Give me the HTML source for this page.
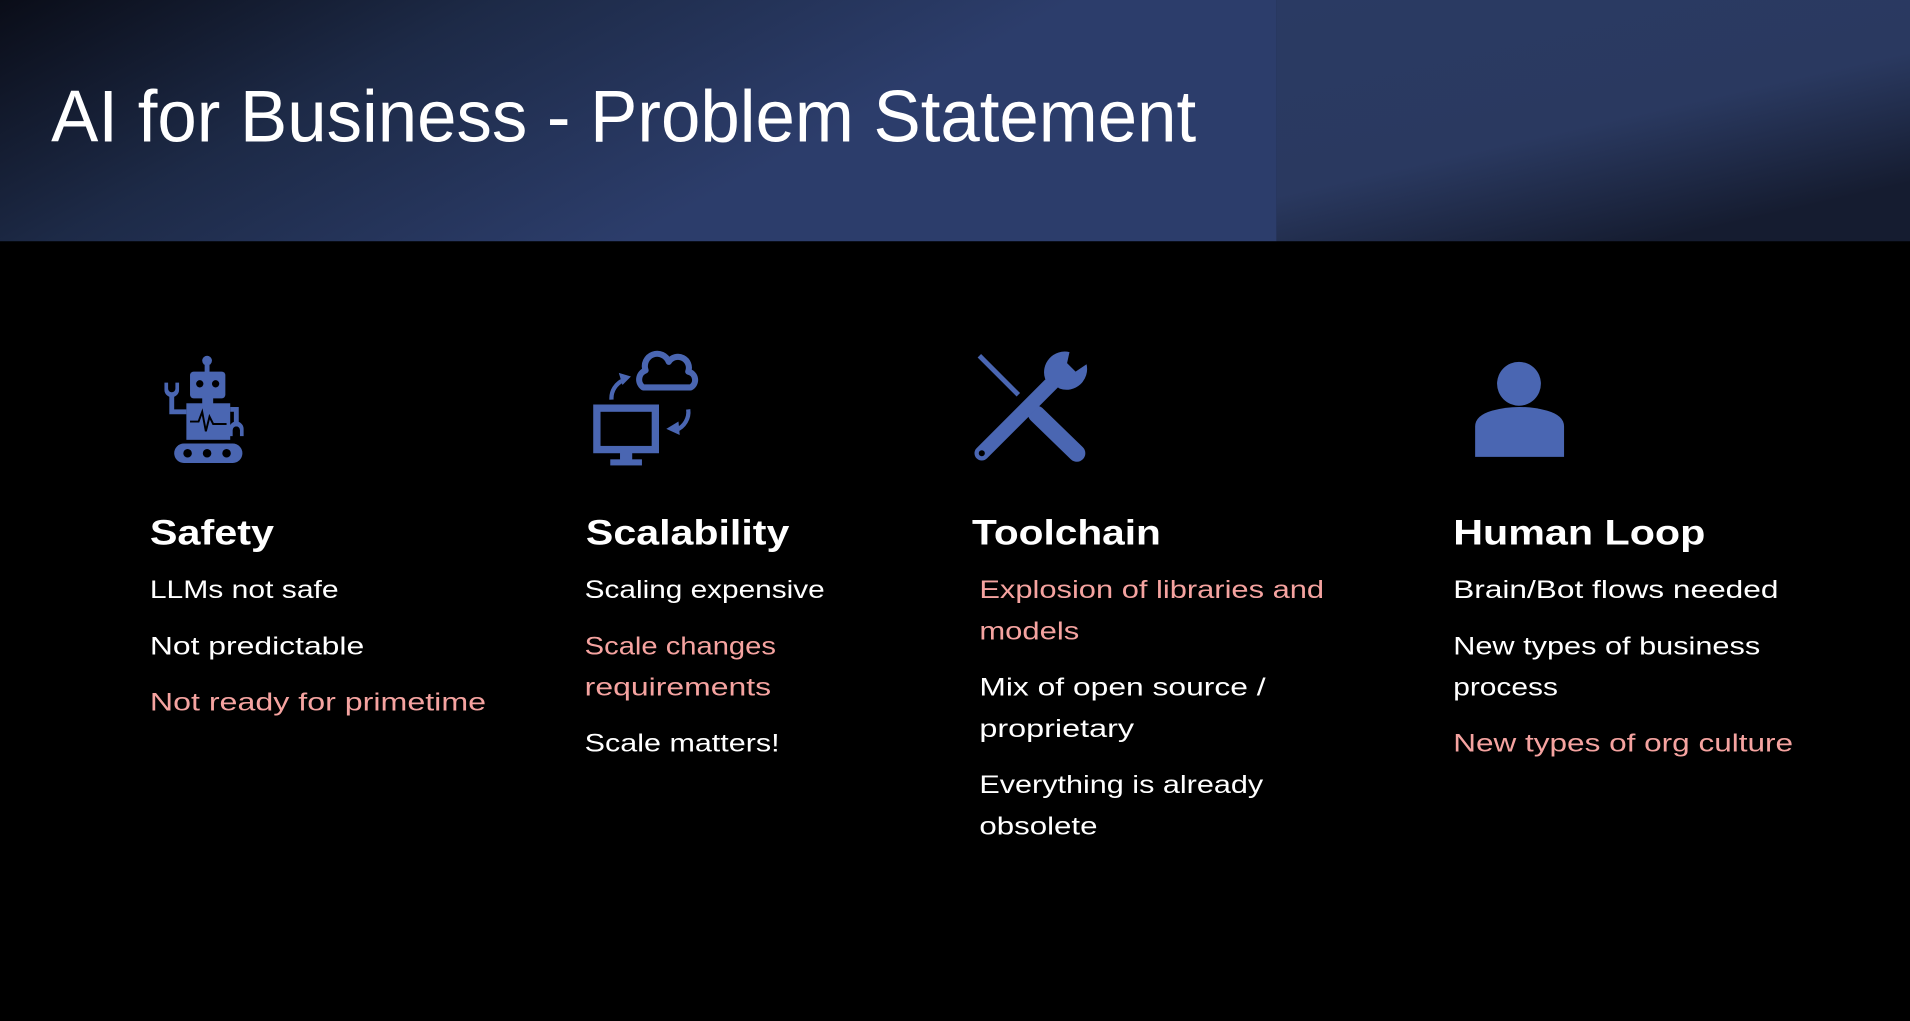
<!DOCTYPE html>
<html><head><meta charset="utf-8"><style>
html,body{margin:0;padding:0;background:#000;width:1910px;height:1021px;overflow:hidden}
svg{display:block}
text{font-family:"Liberation Sans",sans-serif}
</style></head><body>
<svg width="1910" height="1021" viewBox="0 0 1568 838" preserveAspectRatio="none" xmlns="http://www.w3.org/2000/svg">
<defs>
<linearGradient id="hg" x1="0" y1="0" x2="1" y2="0.35">
<stop offset="0" stop-color="#0a0d18"/>
<stop offset="0.35" stop-color="#1d2a47"/>
<stop offset="0.75" stop-color="#2c3d6b"/>
<stop offset="1" stop-color="#2c3d6b"/>
</linearGradient>
<linearGradient id="pg" x1="0" y1="0" x2="0.6" y2="1">
<stop offset="0" stop-color="#2a3a63"/>
<stop offset="0.6" stop-color="#2a3960"/>
<stop offset="1" stop-color="#151c30"/>
</linearGradient>
</defs>
<rect x="0" y="0" width="1568" height="838" fill="#000"/>
<rect x="0" y="0" width="1048" height="198" fill="url(#hg)"/>
<rect x="1048" y="0" width="520" height="198" fill="url(#pg)"/>
<text x="42" y="116" font-size="60" fill="#fff" textLength="940" lengthAdjust="spacingAndGlyphs">AI for Business - Problem Statement</text>

<g fill="#4a66b2">
<!-- robot -->
<circle cx="170" cy="296" r="4"/>
<rect x="168" y="298" width="4" height="9"/>
<rect x="156" y="305" width="29" height="22" rx="3"/>
<circle cx="164" cy="315" r="3" fill="#000"/><circle cx="177" cy="315" r="3" fill="#000"/>
<rect x="166" y="326" width="9" height="6"/>
<rect x="153" y="331" width="36" height="30"/>
<polyline points="156,346 163,346 166,338 169,354 172,342 175,348 186,348" fill="none" stroke="#000" stroke-width="1.6"/>
<path d="M153 338 H141 V322" fill="none" stroke="#4a66b2" stroke-width="4"/>
<path d="M135 314 v6 a5 5 0 0 0 12 0 v-6 h-3 v5 a2 2 0 0 1 -6 0 v-5z"/>
<path d="M189 336 H194 V350" fill="none" stroke="#4a66b2" stroke-width="4"/>
<path d="M188 358 v-6 a5 5 0 0 1 12 0 v6 h-3 v-5 a2 2 0 0 0 -6 0 v5z"/>
<rect x="143" y="364" width="56" height="16" rx="8"/>
<circle cx="154" cy="372" r="3.5" fill="#000"/><circle cx="170" cy="372" r="3.5" fill="#000"/><circle cx="186" cy="372" r="3.5" fill="#000"/>
<!-- monitor + cloud -->
<rect x="490" y="335" width="48" height="34" fill="none" stroke="#4a66b2" stroke-width="6"/>
<rect x="509" y="370" width="10" height="8"/>
<rect x="501" y="377" width="26" height="5"/>
<path d="M528 318 a8 8 0 0 1 2 -14 a10 10 0 0 1 19 -7 a9 9 0 0 1 16 8 a7 7 0 0 1 2 13 z" fill="none" stroke="#4a66b2" stroke-width="5" stroke-linejoin="round"/>
<path d="M502 328 a16 16 0 0 1 10 -16" fill="none" stroke="#4a66b2" stroke-width="3.5"/>
<path d="M508 306 l10 3 l-7 7z"/>
<path d="M565 336 a16 16 0 0 1 -10 17" fill="none" stroke="#4a66b2" stroke-width="3.5"/>
<path d="M547 352 l10 -6 l1 11z"/>
<!-- tools -->
<line x1="804" y1="292" x2="836" y2="324" stroke="#4a66b2" stroke-width="4"/>
<line x1="851" y1="340" x2="884" y2="372" stroke="#4a66b2" stroke-width="14" stroke-linecap="round"/>
<line x1="806" y1="372" x2="872" y2="306" stroke="#4a66b2" stroke-width="12" stroke-linecap="round"/>
<path d="M878 289 a17 17 0 0 0 -20 22 l12 8 a17 17 0 0 0 22 -20 l-9 6 l-7 -7 z"/>
<circle cx="806" cy="372" r="2.5" fill="#000"/>
<!-- person -->
<circle cx="1247" cy="315" r="18"/>
<path d="M1211 375 V350 Q1211 341 1225 337 Q1247 331 1270 337 Q1284 341 1284 350 V375 Z"/>
</g>

<g font-weight="bold" font-size="29" fill="#fff">
<text x="123" y="447" textLength="102" lengthAdjust="spacingAndGlyphs">Safety</text>
<text x="481" y="447" textLength="167" lengthAdjust="spacingAndGlyphs">Scalability</text>
<text x="798" y="447" textLength="155" lengthAdjust="spacingAndGlyphs">Toolchain</text>
<text x="1193" y="447" textLength="207" lengthAdjust="spacingAndGlyphs">Human Loop</text>
</g>
<g font-size="20.5" fill="#fff" lengthAdjust="spacingAndGlyphs">
<text x="123" y="491" textLength="155" lengthAdjust="spacingAndGlyphs">LLMs not safe</text>
<text x="123" y="537" textLength="176" lengthAdjust="spacingAndGlyphs">Not predictable</text>
<text x="123" y="583" textLength="276" lengthAdjust="spacingAndGlyphs" fill="#f5a3a0">Not ready for primetime</text>

<text x="480" y="491" textLength="197" lengthAdjust="spacingAndGlyphs">Scaling expensive</text>
<text x="480" y="537" textLength="157" lengthAdjust="spacingAndGlyphs" fill="#f5a3a0">Scale changes</text>
<text x="480" y="571" textLength="153" lengthAdjust="spacingAndGlyphs" fill="#f5a3a0">requirements</text>
<text x="480" y="617" textLength="160" lengthAdjust="spacingAndGlyphs">Scale matters!</text>

<text x="804" y="491" textLength="283" lengthAdjust="spacingAndGlyphs" fill="#f5a3a0">Explosion of libraries and</text>
<text x="804" y="525" textLength="82" lengthAdjust="spacingAndGlyphs" fill="#f5a3a0">models</text>
<text x="804" y="571" textLength="235" lengthAdjust="spacingAndGlyphs">Mix of open source /</text>
<text x="804" y="605" textLength="127" lengthAdjust="spacingAndGlyphs">proprietary</text>
<text x="804" y="651" textLength="233" lengthAdjust="spacingAndGlyphs">Everything is already</text>
<text x="804" y="685" textLength="97" lengthAdjust="spacingAndGlyphs">obsolete</text>

<text x="1193" y="491" textLength="267" lengthAdjust="spacingAndGlyphs">Brain/Bot flows needed</text>
<text x="1193" y="537" textLength="252" lengthAdjust="spacingAndGlyphs">New types of business</text>
<text x="1193" y="571" textLength="86" lengthAdjust="spacingAndGlyphs">process</text>
<text x="1193" y="617" textLength="279" lengthAdjust="spacingAndGlyphs" fill="#f5a3a0">New types of org culture</text>
</g>
</svg>
</body></html>
